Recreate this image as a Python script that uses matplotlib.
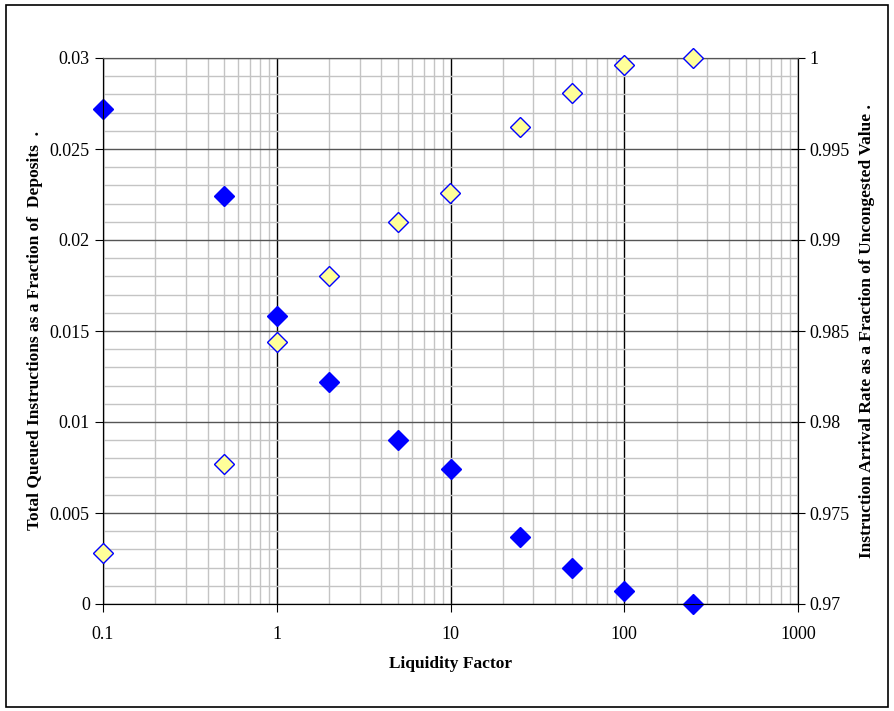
import numpy as np
import matplotlib
matplotlib.use("Agg")
from matplotlib import pyplot as plt
from matplotlib.ticker import MultipleLocator, FixedLocator, FuncFormatter
from matplotlib.patches import Rectangle

# liquidity factor values (x, log scale)
liquidity = [0.1, 0.5, 1, 2, 5, 10, 25, 50, 100, 250]
# left axis: total queued instructions / deposits
queued = [0.0272, 0.0224, 0.0158, 0.0122, 0.0090, 0.0074, 0.0037, 0.0020, 0.0007, 0.0]
# right axis: arrival rate / uncongested value
arrival = [0.9728, 0.9777, 0.9844, 0.9880, 0.9910, 0.9926, 0.9962, 0.9981, 0.9996, 1.0]

x_ticks = [0.1, 1, 10, 100, 1000]
left_ticks = [0, 0.005, 0.01, 0.015, 0.02, 0.025, 0.03]
right_ticks = [0.97, 0.975, 0.98, 0.985, 0.99, 0.995, 1.0]

plt.rcParams['font.family'] = ['Liberation Serif', 'DejaVu Serif']

fig = plt.figure(figsize=(8.94, 7.11), dpi=100)
ax = fig.add_axes([103/894, 107/711, 695/894, 546/711])
ax2 = ax.twinx()

ax.set_xscale('log')
ax.set_xlim(0.1, 1000)
ax.set_ylim(0, 0.03)
ax2.set_ylim(0.97, 1.0)

ax.xaxis.set_major_locator(FixedLocator(x_ticks))
ax.xaxis.set_major_formatter(FuncFormatter(lambda v, p: '%g' % v))
ax.xaxis.set_minor_locator(matplotlib.ticker.LogLocator(base=10, subs=np.arange(2, 10)))
ax.xaxis.set_minor_formatter(matplotlib.ticker.NullFormatter())
ax.yaxis.set_major_locator(FixedLocator(left_ticks))
ax.yaxis.set_major_formatter(FuncFormatter(lambda v, p: '%g' % v))
ax.yaxis.set_minor_locator(MultipleLocator(0.001))
ax2.yaxis.set_major_locator(FixedLocator(right_ticks))
ax2.yaxis.set_major_formatter(FuncFormatter(lambda v, p: '%g' % v))

# grid lines, excel style
ax.grid(True, which='minor', axis='both', color='#c4c4c4', lw=1.0)
ax.grid(True, which='major', axis='x', color='black', lw=1.0)
ax.grid(True, which='major', axis='y', color='#555555', lw=1.0)
ax.set_axisbelow(True)

for a in (ax, ax2):
    a.spines['top'].set_color('#555555')
    a.spines['left'].set_color('black')
    a.spines['right'].set_color('black')
    a.spines['bottom'].set_color('black')

ax.tick_params(axis='both', which='major', labelsize=13, direction='out', length=6, color='black')
ax.tick_params(axis='both', which='minor', length=0)
ax.tick_params(axis='x', pad=10)
ax2.tick_params(axis='y', which='major', labelsize=13, direction='inout', length=10, color='black', pad=3)

ax.plot(liquidity, queued, linestyle='none', marker='D', markersize=10.5,
        color='#0000ff', markeredgecolor='#0000ff', clip_on=False, zorder=5)
ax2.plot(liquidity, arrival, linestyle='none', marker='D', markersize=10.5,
         markerfacecolor='#ffff99', markeredgecolor='#0000ff', markeredgewidth=1.0,
         clip_on=False, zorder=5)

ax.set_xlabel("Liquidity Factor", fontsize=12.5, fontweight='bold', labelpad=9)
ax.set_ylabel("Total Queued Instructions as a Fraction of  Deposits  .", fontsize=12.5,
              fontweight='bold', labelpad=5)
ax2.set_ylabel("Instruction Arrival Rate as a Fraction of Uncongested Value .", fontsize=12.5,
               fontweight='bold', rotation=90, labelpad=7)

# outer chart border
fig.patches.append(Rectangle((6/894, 4/711), 882/894, 702/711, transform=fig.transFigure,
                             fill=False, edgecolor='black', lw=1.2))

fig.savefig("out.png", dpi=100)
